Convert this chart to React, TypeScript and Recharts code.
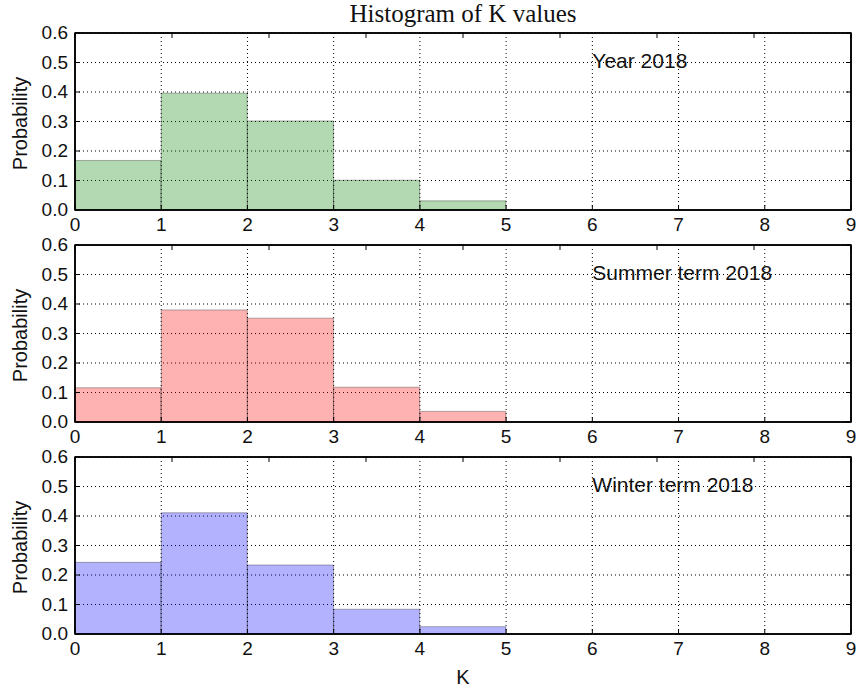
import React from 'react';
import {
  BarChart,
  Bar,
  XAxis,
  YAxis,
  CartesianGrid,
  ReferenceDot,
  ReferenceArea,
} from 'recharts';

// bin left edges, K = 0..8 (bins of width 1)
const kBins = [0, 1, 2, 3, 4, 5, 6, 7, 8];
const kTicks = [0, 1, 2, 3, 4, 5, 6, 7, 8, 9];
const probTicks = [0, 0.1, 0.2, 0.3, 0.4, 0.5, 0.6];

const yearProb = [0.168, 0.396, 0.302, 0.101, 0.031, 0, 0, 0, 0];
const summerProb = [0.116, 0.38, 0.352, 0.118, 0.036, 0, 0, 0, 0];
const winterProb = [0.243, 0.411, 0.234, 0.084, 0.025, 0, 0, 0, 0];

const FONT = '"Liberation Sans", Arial, sans-serif';
const TICK_LEN = 5;
const axisLine = { stroke: '#000', strokeWidth: 1.5 };

// matplotlib-classic style: ticks point inward on all four sides
const BottomTick = (props: any) => {
  const { x, y, payload } = props;
  return (
    <g>
      <line x1={x} y1={y} x2={x} y2={y - TICK_LEN} stroke="#000" strokeWidth={1} />
      <text x={x} y={y + 21} textAnchor="middle" fontSize={19} fontFamily={FONT} fill="#111">
        {payload.value}
      </text>
    </g>
  );
};

const TopTick = (props: any) => {
  const { x, y } = props;
  return <line x1={x} y1={y} x2={x} y2={y + TICK_LEN} stroke="#000" strokeWidth={1} />;
};

const LeftTick = (props: any) => {
  const { x, y, payload } = props;
  return (
    <g>
      <line x1={x} y1={y} x2={x + TICK_LEN} y2={y} stroke="#000" strokeWidth={1} />
      <text x={x - 7} y={y + 6} textAnchor="end" fontSize={19} fontFamily={FONT} fill="#111">
        {Number(payload.value).toFixed(1)}
      </text>
    </g>
  );
};

const RightTick = (props: any) => {
  const { x, y } = props;
  return <line x1={x} y1={y} x2={x - TICK_LEN} y2={y} stroke="#000" strokeWidth={1} />;
};

interface PanelProps {
  values: number[];
  color: string;
  note: string;
  top: number;
  showK?: boolean;
}

function Panel({ values, color, note, top, showK }: PanelProps) {
  const data = kBins.map((k, i) => ({ bin: String(k), k, p: values[i] }));
  const height = showK ? 264 : 236;

  return (
    <div style={{ position: 'absolute', left: 0, top, width: 858, height }}>
      <BarChart
        width={858}
        height={height}
        data={data}
        margin={{ top: 32, right: 6, bottom: 0, left: 0 }}
        barCategoryGap={0}
        barGap={0}
      >
        <CartesianGrid
          xAxisId="k"
          yAxisId="left"
          stroke="#000"
          strokeWidth={1}
          strokeDasharray="1 3"
        />
        <XAxis xAxisId="bins" dataKey="bin" hide height={0} />
        <XAxis
          xAxisId="k"
          dataKey="k"
          type="number"
          domain={[0, 9]}
          ticks={kTicks}
          allowDataOverflow
          interval={0}
          height={showK ? 54 : 26}
          tickSize={0}
          tickMargin={0}
          tickLine={false}
          axisLine={axisLine}
          tick={(p: any) => <BottomTick {...p} />}
          label={
            showK
              ? {
                  value: 'K',
                  content: ({ viewBox }: any) => (
                    <text
                      x={viewBox.x + viewBox.width / 2}
                      y={viewBox.y + 50}
                      textAnchor="middle"
                      fontSize={20}
                      fontFamily={FONT}
                      fill="#111"
                    >
                      K
                    </text>
                  ),
                }
              : undefined
          }
        />
        <XAxis
          xAxisId="top"
          orientation="top"
          type="number"
          domain={[0, 9]}
          ticks={kTicks}
          allowDataOverflow
          interval={0}
          height={1}
          tickSize={0}
          tickMargin={0}
          tickLine={false}
          axisLine={axisLine}
          tick={(p: any) => <TopTick {...p} />}
        />
        <YAxis
          yAxisId="left"
          type="number"
          domain={[0, 0.6]}
          ticks={probTicks}
          allowDataOverflow
          interval={0}
          width={75}
          tickSize={0}
          tickMargin={0}
          tickLine={false}
          axisLine={axisLine}
          tick={(p: any) => <LeftTick {...p} />}
          label={{
            value: 'Probability',
            content: ({ viewBox }: any) => {
              const cx = 26.5;
              const cy = viewBox.y + viewBox.height / 2 + 2;
              return (
                <text
                  x={cx}
                  y={cy}
                  textAnchor="middle"
                  fontSize={20}
                  fontFamily={FONT}
                  fill="#111"
                  transform={`rotate(-90, ${cx}, ${cy})`}
                >
                  Probability
                </text>
              );
            },
          }}
        />
        <YAxis
          yAxisId="right"
          orientation="right"
          type="number"
          domain={[0, 0.6]}
          ticks={probTicks}
          allowDataOverflow
          interval={0}
          width={1}
          tickSize={0}
          tickMargin={0}
          tickLine={false}
          axisLine={axisLine}
          tick={(p: any) => <RightTick {...p} />}
        />
        <Bar
          xAxisId="bins"
          yAxisId="left"
          dataKey="p"
          fill={color}
          fillOpacity={0.3}
          stroke="#000"
          strokeOpacity={0.3}
          strokeWidth={1}
          isAnimationActive={false}
        />
        {/* plot frame */}
        <ReferenceArea
          xAxisId="k"
          yAxisId="left"
          x1={0}
          x2={9}
          y1={0}
          y2={0.6}
          fill="none"
          fillOpacity={0}
          stroke="#000"
          strokeOpacity={1}
          strokeWidth={1.5}
          ifOverflow="visible"
        />
        <ReferenceDot
          xAxisId="k"
          yAxisId="left"
          x={6}
          y={0.5}
          r={0}
          fill="none"
          stroke="none"
          label={{
            value: note,
            content: ({ viewBox }: any) => (
              <text
                x={viewBox.x + viewBox.width / 2}
                y={viewBox.y + viewBox.height / 2 + 5}
                textAnchor="start"
                fontSize={21}
                fontFamily={FONT}
                fill="#111"
              >
                {note}
              </text>
            ),
          }}
        />
      </BarChart>
    </div>
  );
}

export default function App() {
  return (
    <div
      style={{
        position: 'absolute',
        left: 0,
        top: 0,
        width: 858,
        height: 688,
        background: '#fff',
      }}
    >
      <div
        style={{
          position: 'absolute',
          left: 75,
          top: 0,
          width: 776,
          textAlign: 'center',
          fontFamily: '"Liberation Serif", "Times New Roman", serif',
          fontSize: 25,
          lineHeight: 'normal',
          color: '#111',
        }}
      >
        Histogram of K values
      </div>
      <Panel values={yearProb} color="green" note="Year 2018" top={0} />
      <Panel values={summerProb} color="red" note="Summer term 2018" top={212} />
      <Panel values={winterProb} color="blue" note="Winter term 2018" top={424} showK />
    </div>
  );
}
